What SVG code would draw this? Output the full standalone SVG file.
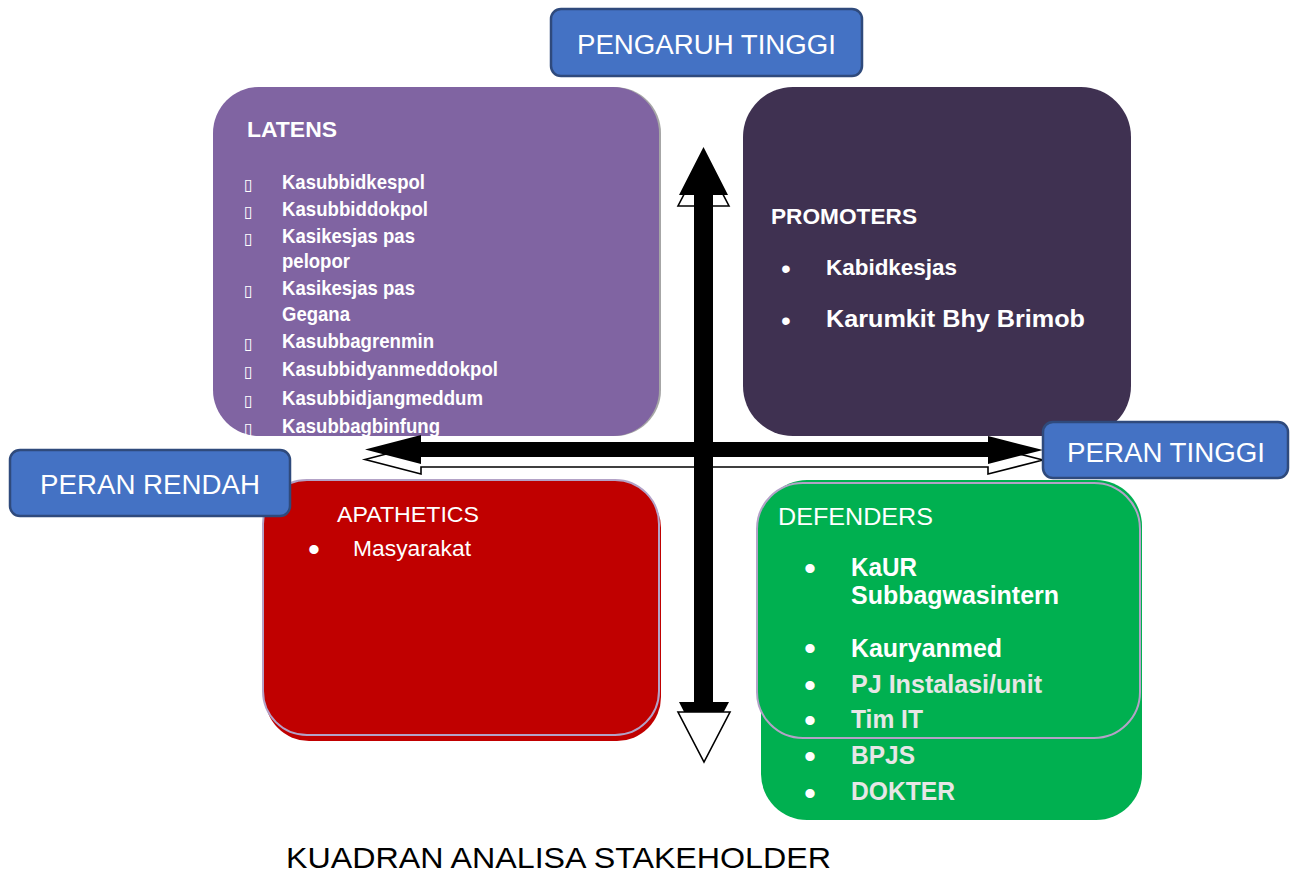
<svg xmlns="http://www.w3.org/2000/svg" width="1294" height="872" viewBox="0 0 1294 872">
<style>
text{font-family:"Liberation Sans",Arial,sans-serif;fill:#fff}
.b{font-weight:bold}
.nar{font-family:"Liberation Sans Narrow","Liberation Sans",Arial,sans-serif;font-weight:bold;font-size:21px}
.tofu{font-family:"DejaVu Sans",sans-serif;font-size:16px}
.lbl{fill:#4472C4;stroke:#2F4A7C;stroke-width:2.5}
.lt{font-size:27px}
.gr{fill:#E7E6E6}
.shadow{fill:#fff;stroke:#000;stroke-width:1.6;stroke-linejoin:miter}
.blk{fill:#000}
.qs{stroke:#B3A2C7;stroke-width:2}
.bl{font-size:34px}
.blp{font-size:28px}
</style>
<rect width="1294" height="872" fill="#fff"/>

<g id="latens">
<rect x="216" y="87" width="445" height="349" rx="46" fill="#A6A6A6"/>
<rect x="213" y="87" width="446" height="349" rx="46" fill="#8064A2"/>
<text x="247" y="137" class="b" font-size="22" textLength="90" lengthAdjust="spacingAndGlyphs">LATENS</text>
<text x="244" y="190" class="tofu">▯</text>
<text x="282" y="189" class="nar" textLength="143" lengthAdjust="spacingAndGlyphs">Kasubbidkespol</text>
<text x="244" y="217" class="tofu">▯</text>
<text x="282" y="216" class="nar" textLength="146" lengthAdjust="spacingAndGlyphs">Kasubbiddokpol</text>
<text x="244" y="244" class="tofu">▯</text>
<text x="282" y="243" class="nar" textLength="133" lengthAdjust="spacingAndGlyphs">Kasikesjas pas</text>
<text x="282" y="268" class="nar" textLength="68" lengthAdjust="spacingAndGlyphs">pelopor</text>
<text x="244" y="296" class="tofu">▯</text>
<text x="282" y="295" class="nar" textLength="133" lengthAdjust="spacingAndGlyphs">Kasikesjas pas</text>
<text x="282" y="321" class="nar" textLength="68" lengthAdjust="spacingAndGlyphs">Gegana</text>
<text x="244" y="349" class="tofu">▯</text>
<text x="282" y="348" class="nar" textLength="152" lengthAdjust="spacingAndGlyphs">Kasubbagrenmin</text>
<text x="244" y="377" class="tofu">▯</text>
<text x="282" y="376" class="nar" textLength="216" lengthAdjust="spacingAndGlyphs">Kasubbidyanmeddokpol</text>
<text x="244" y="406" class="tofu">▯</text>
<text x="282" y="405" class="nar" textLength="201" lengthAdjust="spacingAndGlyphs">Kasubbidjangmeddum</text>
<text x="244" y="434" class="tofu">▯</text>
<text x="282" y="433" class="nar" textLength="158" lengthAdjust="spacingAndGlyphs">Kasubbagbinfung</text>
</g>

<g id="promoters">
<rect x="743" y="87" width="388" height="349" rx="50" fill="#3F3151"/>
<text x="771" y="224" class="b" font-size="22" textLength="146" lengthAdjust="spacingAndGlyphs">PROMOTERS</text>
<text x="781" y="278" class="blp">•</text>
<text x="826" y="275" class="b" font-size="22" textLength="131" lengthAdjust="spacingAndGlyphs">Kabidkesjas</text>
<text x="781" y="330" class="blp">•</text>
<text x="826" y="327" class="b" font-size="24" textLength="259" lengthAdjust="spacingAndGlyphs">Karumkit Bhy Brimob</text>
</g>

<g id="apathetics">
<rect x="265" y="484" width="396" height="257" rx="44" fill="#C00000"/>
<rect x="263" y="480" width="396" height="255" rx="44" fill="#C00000" class="qs"/>
<text x="337" y="522" font-size="22" textLength="142" lengthAdjust="spacingAndGlyphs">APATHETICS</text>
<text x="308" y="561" class="bl">•</text>
<text x="353" y="556" font-size="22" textLength="118" lengthAdjust="spacingAndGlyphs">Masyarakat</text>
</g>

<g id="defenders">
<rect x="761" y="480" width="381" height="340" rx="46" fill="#00B050"/>
<rect x="757" y="483" width="383" height="255" rx="46" fill="#00B050" class="qs"/>
<text x="778" y="525" font-size="24" textLength="155" lengthAdjust="spacingAndGlyphs">DEFENDERS</text>
<text x="804" y="580" class="bl">•</text>
<text x="851" y="576" class="b" font-size="25" textLength="66" lengthAdjust="spacingAndGlyphs">KaUR</text>
<text x="851" y="604" class="b" font-size="25" textLength="208" lengthAdjust="spacingAndGlyphs">Subbagwasintern</text>
<text x="804" y="660" class="bl">•</text>
<text x="851" y="657" class="b" font-size="25" textLength="151" lengthAdjust="spacingAndGlyphs">Kauryanmed</text>
<text x="804" y="697" class="bl">•</text>
<text x="851" y="693" class="b gr" font-size="25" textLength="191" lengthAdjust="spacingAndGlyphs">PJ Instalasi/unit</text>
<text x="804" y="732" class="bl">•</text>
<text x="851" y="728" class="b gr" font-size="25" textLength="72" lengthAdjust="spacingAndGlyphs">Tim IT</text>
<text x="804" y="768" class="bl">•</text>
<text x="851" y="764" class="b gr" font-size="25" textLength="64" lengthAdjust="spacingAndGlyphs">BPJS</text>
<text x="804" y="805" class="bl">•</text>
<text x="851" y="800" class="b gr" font-size="25" textLength="104" lengthAdjust="spacingAndGlyphs">DOKTER</text>
</g>

<g id="connectors">
<polygon class="shadow" points="365,459.5 421,445 421,452 988,452 988,446 1043,460 988,474 988,467 421,467 421,474"/>
<polygon class="shadow" points="703.5,157 678,206 729,206"/>
<polygon class="blk" points="365,449.5 421,435 421,442 988,442 988,436 1043,450 988,464 988,457 421,457 421,464"/>
<polygon class="blk" points="703.5,147 679,195 694,195 694,702 679,702 703.5,750 729,702 713,702 713,195 728,195"/>
<polygon class="shadow" points="678,712 730,712 704,762" stroke-width="2"/>
</g>

<g id="pengaruh-tinggi">
<rect x="551" y="9" width="311" height="67" rx="10" class="lbl"/>
<text x="577" y="54" class="lt" textLength="259" lengthAdjust="spacingAndGlyphs">PENGARUH TINGGI</text>
</g>

<g id="peran-rendah">
<rect x="10" y="450" width="280" height="66" rx="10" class="lbl"/>
<text x="40" y="494" class="lt" textLength="220" lengthAdjust="spacingAndGlyphs">PERAN RENDAH</text>
</g>

<g id="peran-tinggi">
<rect x="1043" y="422" width="245" height="56" rx="10" class="lbl"/>
<text x="1067" y="462" class="lt" textLength="198" lengthAdjust="spacingAndGlyphs">PERAN TINGGI</text>
</g>

<text x="286" y="868" font-size="29" style="fill:#000" textLength="545" lengthAdjust="spacingAndGlyphs">KUADRAN ANALISA STAKEHOLDER</text>
</svg>
